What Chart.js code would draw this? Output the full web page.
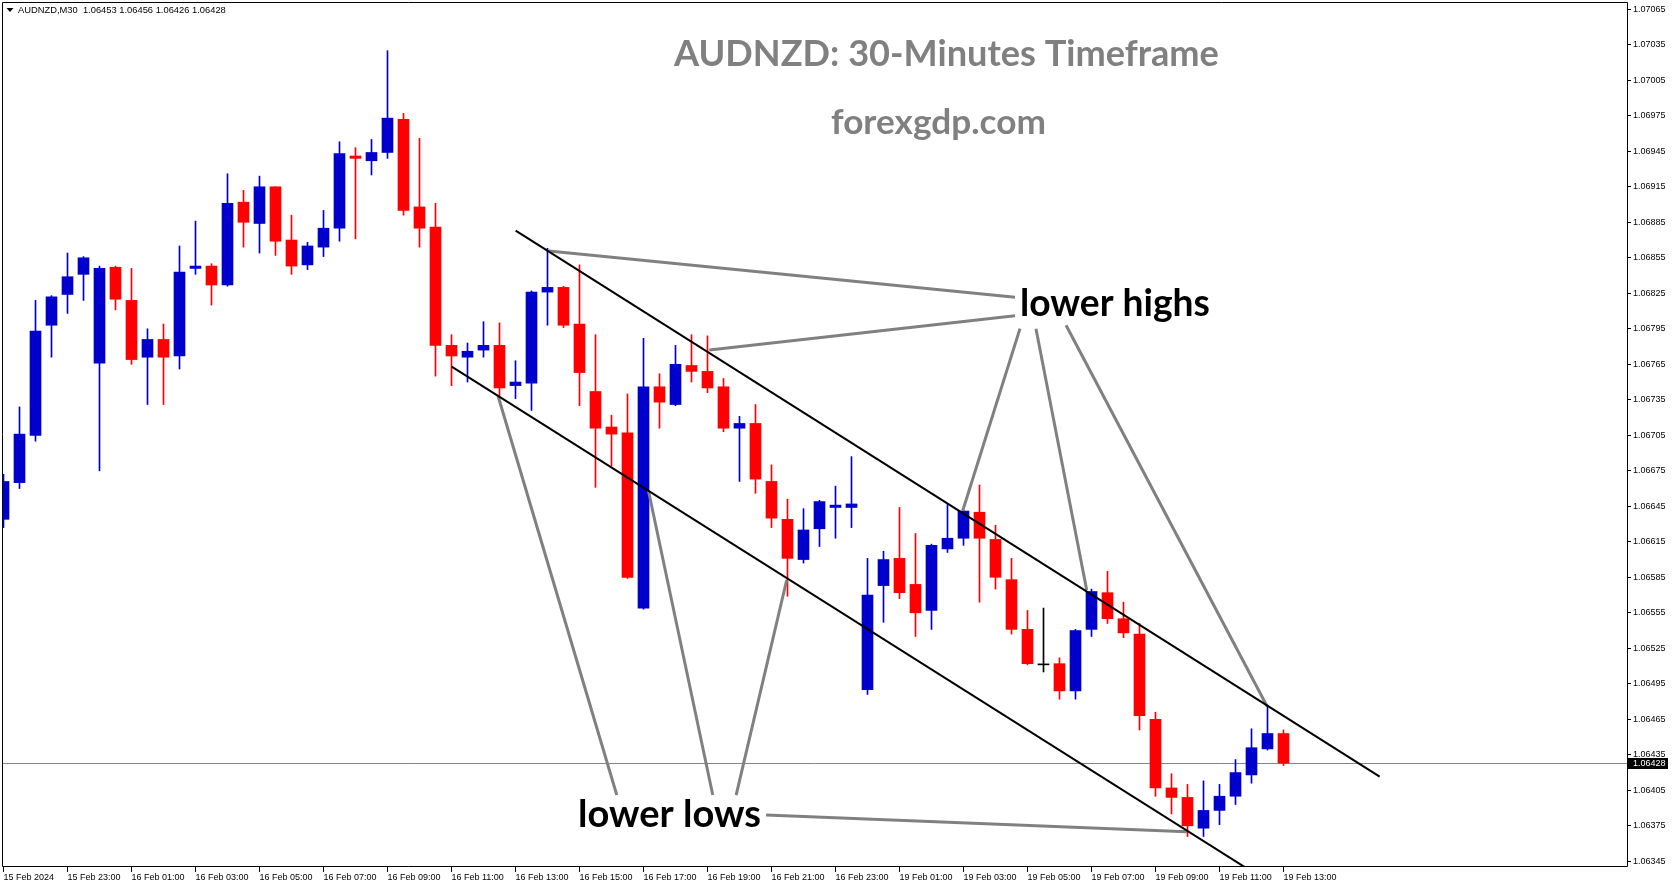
<!DOCTYPE html>
<html>
<head>
<meta charset="utf-8">
<script src="https://cdn.jsdelivr.net/npm/chart.js@4.4.1/dist/chart.umd.min.js"></script>
<style>
html,body{margin:0;padding:0;background:#fff;overflow:hidden}
#wrap{width:1673px;height:888px;position:relative}
</style>
</head>
<body>
<div id="wrap"><canvas id="c"></canvas></div>
<script>
// ---------------- DATA ----------------
const symbolHeader = 'AUDNZD,M30  1.06453 1.06456 1.06426 1.06428';

// 30-minute candles, 15 Feb 2024 21:00 -> 19 Feb 2024 13:00 (index 0..80)
const opens = [
1.06634,1.06665,1.06705,1.06798,1.06824,1.06841,1.06766,1.06847,1.06819,1.06771,
1.06786,1.06772,1.06846,1.06848,1.06832,1.06902,1.06884,1.06915,1.06870,1.06849,
1.06864,1.06880,1.06941,1.06937,1.06944,1.06972,1.06898,1.06881,1.06781,1.06771,
1.06777,1.06781,1.06747,1.06749,1.06826,1.06830,1.06799,1.06742,1.06712,1.06707,
1.06559,1.06746,1.06731,1.06764,1.06759,1.06746,1.06711,1.06715,1.06666,1.06634,
1.06600,1.06626,1.06644,1.06644,1.06490,1.06578,1.06601,1.06579,1.06557,1.06609,
1.06618,1.06640,1.06617,1.06583,1.06541,1.06511,1.06512,1.06489,1.06541,1.06572,
1.06550,1.06537,1.06465,1.06407,1.06399,1.06373,1.06388,1.06400,1.06418,1.06440,
1.06453];
const highs = [
1.06672,1.06729,1.06819,1.06823,1.06859,1.06856,1.06848,1.06848,1.06846,1.06795,
1.06799,1.06865,1.06886,1.06850,1.06926,1.06912,1.06924,1.06915,1.06891,1.06868,
1.06895,1.06953,1.06948,1.06955,1.07030,1.06977,1.06956,1.06901,1.06790,1.06783,
1.06801,1.06800,1.06768,1.06827,1.06863,1.06831,1.06849,1.06790,1.06722,1.06740,
1.06787,1.06757,1.06781,1.06790,1.06789,1.06753,1.06721,1.06731,1.06680,1.06651,
1.06643,1.06650,1.06662,1.06687,1.06601,1.06607,1.06644,1.06622,1.06613,1.06647,
1.06642,1.06663,1.06629,1.06601,1.06557,1.06559,1.06517,1.06541,1.06575,1.06590,
1.06564,1.06546,1.06471,1.06419,1.06410,1.06413,1.06410,1.06431,1.06457,1.06477,
1.06456];
const lows = [
1.06627,1.06660,1.06700,1.06771,1.06808,1.06819,1.06675,1.06811,1.06765,1.06731,
1.06731,1.06761,1.06841,1.06815,1.06831,1.06864,1.06859,1.06857,1.06841,1.06845,
1.06856,1.06869,1.06871,1.06925,1.06939,1.06891,1.06864,1.06755,1.06747,1.06750,
1.06771,1.06737,1.06736,1.06726,1.06798,1.06796,1.06730,1.06661,1.06679,1.06584,
1.06558,1.06711,1.06730,1.06750,1.06741,1.06708,1.06666,1.06656,1.06627,1.06569,
1.06597,1.06611,1.06618,1.06627,1.06486,1.06547,1.06567,1.06535,1.06541,1.06606,
1.06612,1.06564,1.06575,1.06537,1.06511,1.06505,1.06482,1.06482,1.06535,1.06546,
1.06534,1.06456,1.06400,1.06385,1.06366,1.06366,1.06376,1.06393,1.06411,1.06439,
1.06426];
const closes = [
1.06666,1.06706,1.06793,1.06822,1.06839,1.06855,1.06846,1.06820,1.06769,1.06786,
1.06771,1.06843,1.06848,1.06832,1.06901,1.06885,1.06915,1.06869,1.06848,1.06865,
1.06880,1.06943,1.06939,1.06944,1.06973,1.06895,1.06880,1.06781,1.06772,1.06776,
1.06781,1.06745,1.06750,1.06826,1.06830,1.06798,1.06758,1.06711,1.06706,1.06585,
1.06746,1.06733,1.06765,1.06759,1.06745,1.06711,1.06715,1.06668,1.06635,1.06601,
1.06625,1.06649,1.06646,1.06647,1.06570,1.06600,1.06572,1.06555,1.06612,1.06618,
1.06641,1.06618,1.06585,1.06541,1.06512,1.06511,1.06489,1.06540,1.06573,1.06550,
1.06538,1.06468,1.06407,1.06399,1.06375,1.06388,1.06400,1.06420,1.06441,1.06453,
1.06428];

const xTickIdx = [0,4,8,12,16,20,24,28,32,36,40,44,48,52,56,60,64,68,72,76,80];
const xTickLabels = ['15 Feb 2024','15 Feb 23:00','16 Feb 01:00','16 Feb 03:00','16 Feb 05:00',
'16 Feb 07:00','16 Feb 09:00','16 Feb 11:00','16 Feb 13:00','16 Feb 15:00','16 Feb 17:00',
'16 Feb 19:00','16 Feb 21:00','16 Feb 23:00','19 Feb 01:00','19 Feb 03:00','19 Feb 05:00',
'19 Feb 07:00','19 Feb 09:00','19 Feb 11:00','19 Feb 13:00'];
const yTicks = [1.06345,1.06375,1.06405,1.06435,1.06465,1.06495,1.06525,1.06555,1.06585,
1.06615,1.06645,1.06675,1.06705,1.06735,1.06765,1.06795,1.06825,1.06855,1.06885,1.06915,
1.06945,1.06975,1.07005,1.07035,1.07065];

// annotation lines in data space: [barIndex1, price1, barIndex2, price2]
const channelLines = [
  [32.01, 1.068779, 86.01, 1.064165],
  [28.01, 1.067630, 79.00, 1.063280]
];
const pointerLines = [
  [34.09, 1.068607, 63.22, 1.068216],
  [44.11, 1.067771, 63.22, 1.068061],
  [59.95, 1.066413, 63.53, 1.067951],
  [67.70, 1.065743, 64.53, 1.067951],
  [78.99, 1.064756, 66.41, 1.067980],
  [30.91, 1.067382, 38.33, 1.064010],
  [40.30, 1.066588, 44.33, 1.064010],
  [48.95, 1.065827, 45.79, 1.064010],
  [47.66, 1.063841, 73.95, 1.063700]
];
const annotTexts = [
  {text:'lower highs', x:63.53, y:1.068060, w:190},
  {text:'lower lows',  x:35.91, y:1.063740, w:183}
];

// ---------------- CHART ----------------
const C_UP = '#0000CD', C_DN = '#FF0000', C_DOJI = '#000000';
const candleColors = opens.map((o,i) => closes[i] > o ? C_UP : (closes[i] < o ? C_DN : C_DOJI));
const bodyData = opens.map((o,i) => ({x:i, y:[o, closes[i]]}));
const wickData = opens.map((o,i) => ({x:i, y:[lows[i], highs[i]]}));

function fitSize(ctx, text, weight, family, targetW){
  ctx.font = weight + ' 100px ' + family;
  return 100 * targetW / ctx.measureText(text).width;
}

const overlay = {
  id:'overlay',
  beforeDatasetsDraw(chart){
    const {ctx, chartArea:a, scales:{y}} = chart;
    const py = Math.round(y.getPixelForValue(closes[closes.length-1])) + 0.5;
    ctx.save();
    ctx.strokeStyle = '#778899'; ctx.lineWidth = 1;
    ctx.beginPath(); ctx.moveTo(a.left, py); ctx.lineTo(a.right, py); ctx.stroke();
    ctx.restore();
  },
  afterDatasetsDraw(chart){
    const {ctx, chartArea:a, scales:{x,y}} = chart;
    ctx.save();
    ctx.beginPath(); ctx.rect(a.left, a.top, a.right-a.left, a.bottom-a.top); ctx.clip();
    ctx.lineCap = 'butt';
    ctx.strokeStyle = '#808080'; ctx.lineWidth = 3;
    for (const l of pointerLines){
      ctx.beginPath();
      ctx.moveTo(x.getPixelForValue(l[0]), y.getPixelForValue(l[1]));
      ctx.lineTo(x.getPixelForValue(l[2]), y.getPixelForValue(l[3]));
      ctx.stroke();
    }
    ctx.strokeStyle = '#000000'; ctx.lineWidth = 2;
    for (const l of channelLines){
      ctx.beginPath();
      ctx.moveTo(x.getPixelForValue(l[0]), y.getPixelForValue(l[1]));
      ctx.lineTo(x.getPixelForValue(l[2]), y.getPixelForValue(l[3]));
      ctx.stroke();
    }
    ctx.fillStyle = '#000000'; ctx.textBaseline = 'alphabetic'; ctx.textAlign = 'left';
    for (const t of annotTexts){
      const s = fitSize(ctx, t.text, 'bold', 'Lato', t.w);
      ctx.font = 'bold ' + s + 'px Lato';
      ctx.fillText(t.text, x.getPixelForValue(t.x), y.getPixelForValue(t.y));
    }
    // titles
    ctx.fillStyle = '#808080';
    let s = fitSize(ctx, 'AUDNZD: 30-Minutes Timeframe', 'bold', 'Lato', 545);
    ctx.font = 'bold ' + s + 'px Lato';
    ctx.fillText('AUDNZD: 30-Minutes Timeframe', 674, 66);
    s = fitSize(ctx, 'forexgdp.com', 'bold', 'Lato', 215);
    ctx.font = 'bold ' + s + 'px Lato';
    ctx.fillText('forexgdp.com', 831, 134);
    ctx.restore();
  },
  afterDraw(chart){
    const {ctx, chartArea:a, scales:{y}} = chart;
    ctx.save();
    ctx.strokeStyle = '#000'; ctx.lineWidth = 1;
    ctx.beginPath();
    ctx.moveTo(2.5, 2.5); ctx.lineTo(a.right+0.5, 2.5);
    ctx.lineTo(a.right+0.5, a.bottom-0.5); ctx.lineTo(2.5, a.bottom-0.5); ctx.closePath();
    ctx.stroke();
    // last price box
    const last = closes[closes.length-1];
    const py = Math.round(y.getPixelForValue(last)) + 0.5;
    ctx.fillStyle = '#000';
    ctx.fillRect(a.right+1, py-5.5, 40, 11);
    ctx.fillStyle = '#fff'; ctx.font = '9px "Liberation Sans"';
    ctx.textBaseline = 'middle'; ctx.textAlign = 'left';
    ctx.fillText(last.toFixed(5), a.right+6, py+0.5);
    // header
    ctx.fillStyle = '#000';
    ctx.beginPath(); ctx.moveTo(6.5, 8); ctx.lineTo(13.5, 8); ctx.lineTo(10, 12); ctx.closePath(); ctx.fill();
    const hs = fitSize(ctx, symbolHeader, 'normal', '"Liberation Sans"', 208);
    ctx.font = hs + 'px "Liberation Sans"';
    ctx.fillText(symbolHeader, 18, 10.5);
    ctx.restore();
  }
};

Chart.defaults.font.family = '"Liberation Sans", Arial, sans-serif';
Chart.defaults.font.size = 9;
Chart.defaults.color = '#000';

new Chart(document.getElementById('c'), {
  type:'bar',
  data:{
    datasets:[
      {label:'body', data:bodyData, backgroundColor:candleColors, borderWidth:0,
       barThickness:11, minBarLength:1, grouped:false},
      {label:'wick', data:wickData, backgroundColor:candleColors, borderWidth:0,
       barThickness:1, minBarLength:1, grouped:false}
    ]
  },
  options:{
    responsive:true, maintainAspectRatio:false, animation:false, devicePixelRatio:1,
    layout:{padding:{left:2, top:3, right:0, bottom:0}},
    plugins:{legend:{display:false}, tooltip:{enabled:false}},
    scales:{
      x:{
        type:'linear', position:'bottom', offset:false,
        min:-0.09375, max:101.46875,
        afterBuildTicks(sc){ sc.ticks = xTickIdx.map(v => ({value:v})); },
        afterFit(sc){ sc.height = 21; sc.paddingLeft = 0; sc.paddingRight = 0; },
        grid:{offset:false, drawOnChartArea:false, drawTicks:true, tickLength:5, color:'#000'},
        border:{display:false},
        ticks:{autoSkip:false, maxRotation:0, minRotation:0, align:'start', padding:0,
          callback(v){ const i = xTickIdx.indexOf(v); return i >= 0 ? xTickLabels[i] : ''; }}
      },
      y:{
        type:'linear', position:'right',
        min:1.063402, max:1.070703,
        afterBuildTicks(sc){ sc.ticks = yTicks.map(v => ({value:v})); },
        afterFit(sc){ sc.width = 46; sc.paddingTop = 0; sc.paddingBottom = 0; },
        grid:{drawOnChartArea:false, drawTicks:true, tickLength:4, color:'#000'},
        border:{display:false},
        ticks:{autoSkip:false, padding:2, callback(v){ return Number(v).toFixed(5); }}
      }
    }
  },
  plugins:[overlay]
});
</script>
</body>
</html>
